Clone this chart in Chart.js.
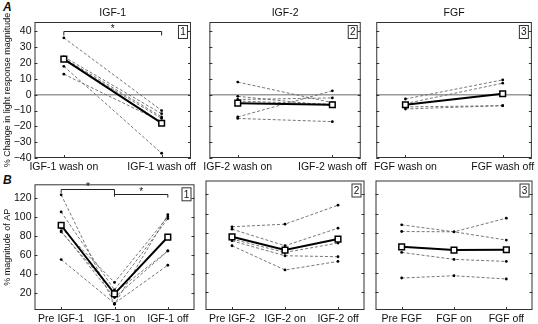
<!DOCTYPE html>
<html>
<head>
<meta charset="utf-8">
<script src="https://cdn.jsdelivr.net/npm/chart.js@4.4.0/dist/chart.umd.min.js"></script>
<style>
  body { margin: 0; background: #fff; }
  #wrap { position: relative; width: 538px; height: 324px; font-family: "Liberation Sans", Arial, sans-serif; }
  canvas { position: absolute; }
  .tag { position: absolute; font-weight: bold; font-style: italic; font-size: 12px; color: #111; }
</style>
</head>
<body>
<div id="wrap">
  <div class="tag" style="left:3px;top:0px">A</div>
  <div class="tag" style="left:3px;top:173px">B</div>
  <canvas id="a1" style="left:0px;top:0px" width="200" height="175"></canvas>
  <canvas id="a2" style="left:200px;top:0px" width="170" height="175"></canvas>
  <canvas id="a3" style="left:370px;top:0px" width="168" height="175"></canvas>
  <canvas id="b1" style="left:0px;top:175px" width="200" height="149"></canvas>
  <canvas id="b2" style="left:200px;top:175px" width="170" height="149"></canvas>
  <canvas id="b3" style="left:370px;top:175px" width="168" height="149"></canvas>
</div>
<script>
// Row A: % change in light response, wash on / wash off
const igf1WashLabels = ["IGF-1 wash on", "IGF-1 wash off"];
const igf1WashCells = [[36, -10], [24, -12], [23, -14], [22, -15], [18, -37], [13, -17]];
const igf1WashMean = [22.5, -18];

const igf2WashLabels = ["IGF-2 wash on", "IGF-2 wash off"];
const igf2WashCells = [[8, -5], [-1, -7], [-3, -2], [-4, -6], [-14, 2.5], [-15, -17]];
const igf2WashMean = [-5.3, -6.3];

const fgfWashLabels = ["FGF wash on", "FGF wash off"];
const fgfWashCells = [[-2.7, 9.4], [-5.6, 7.3], [-7.7, -6.9], [-9, -6.9]];
const fgfWashMean = [-6.3, 0.6];

// Row B: % magnitude of AP, pre / on / off
const igf1ApLabels = ["Pre IGF-1", "IGF-1 on", "IGF-1 off"];
const igf1ApCells = [[123, 8, 102], [105, 23, 98], [88, 31, 100], [85, 15, 64], [84, 20, 64], [55, 9, 49]];
const igf1ApMean = [91, 19, 78.6];

const igf2ApLabels = ["Pre IGF-2", "IGF-2 on", "IGF-2 off"];
const igf2ApCells = [[86.8, 89.5, 108.8], [84.4, 67.5, 85.4], [74.3, 60.7, 70.2], [72.5, 57.3, 56.3], [67.5, 42.8, 51.5]];
const igf2ApMean = [76.6, 63.1, 74.3];

const fgfApLabels = ["Pre FGF", "FGF on", "FGF off"];
const fgfApCells = [[88.8, 81.7, 73.3], [82, 81.7, 95.6], [60.7, 53.6, 51.5], [34.6, 36.9, 33.6]];
const fgfApMean = [66.4, 63.1, 63.4];

const FONT = "Liberation Sans";

// draws box, inward ticks, zero line, panel number, title and brackets
const panelDeco = {
  id: "panelDeco",
  beforeDatasetsDraw(chart, args, opts) {
    const { ctx, chartArea: a, scales } = chart;
    if (opts.zero) {
      const y0 = scales.y.getPixelForValue(0);
      ctx.save();
      ctx.strokeStyle = "#9a9a9a";
      ctx.lineWidth = 1.5;
      ctx.beginPath();
      ctx.moveTo(a.left, y0);
      ctx.lineTo(a.right, y0);
      ctx.stroke();
      ctx.restore();
    }
  },
  afterDatasetsDraw(chart, args, opts) {
    const { ctx, chartArea: a, scales } = chart;
    ctx.save();
    ctx.strokeStyle = "#333";
    ctx.lineWidth = 1;
    ctx.strokeRect(a.left + 0.5, a.top + 0.5, a.right - a.left - 1, a.bottom - a.top - 1);
    // y ticks both sides
    ctx.beginPath();
    scales.y.ticks.forEach(t => {
      const y = Math.round(scales.y.getPixelForValue(t.value)) + 0.5;
      ctx.moveTo(a.left, y); ctx.lineTo(a.left + 3, y);
      ctx.moveTo(a.right, y); ctx.lineTo(a.right - 3, y);
    });
    scales.x.ticks.forEach(t => {
      const x = Math.round(scales.x.getPixelForValue(t.value)) + 0.5;
      ctx.moveTo(x, a.bottom); ctx.lineTo(x, a.bottom - 3);
    });
    ctx.stroke();

    // panel number box
    ctx.font = "10px " + FONT;
    ctx.fillStyle = "#111";
    ctx.textAlign = "center";
    ctx.textBaseline = "middle";
    const bw = 9, bh = 13;
    const bx = a.right - 4 - bw, by = a.top + 3;
    ctx.lineWidth = 1;
    ctx.strokeRect(bx + 0.5, by + 0.5, bw, bh);
    ctx.fillText(opts.num, bx + bw / 2 + 0.5, by + bh / 2 + 1);

    // title
    ctx.font = "10.5px " + FONT;
    ctx.fillText(opts.title, (a.left + a.right) / 2, a.top - 9);

    // significance brackets
    (opts.brackets || []).forEach(b => {
      const x0 = scales.x.getPixelForValue(b.x0);
      const x1 = scales.x.getPixelForValue(b.x1);
      const y = Math.round(scales.y.getPixelForValue(b.y)) + 0.5;
      ctx.strokeStyle = "#222";
      ctx.lineWidth = 1;
      ctx.beginPath();
      ctx.moveTo(x0, scales.y.getPixelForValue(b.d0));
      ctx.lineTo(x0, y);
      ctx.lineTo(x1, y);
      ctx.lineTo(x1, scales.y.getPixelForValue(b.d1));
      ctx.stroke();
      ctx.font = "10px " + FONT;
      ctx.fillText("*", (x0 + x1) / 2, y - 2);
    });
    ctx.restore();
  }
};

function makePanel(id, opt) {
  const n = opt.labels.length;
  const datasets = [{
    data: opt.mean.map((v, i) => ({ x: i, y: v })),
    borderColor: "#000",
    borderWidth: 2,
    pointStyle: "rect",
    pointRadius: 4,
    pointBorderWidth: 1.5,
    pointBorderColor: "#000",
    pointBackgroundColor: "#fff"
  }];
  opt.cells.forEach(c => {
    datasets.push({
      data: c.map((v, i) => ({ x: i, y: v })),
      borderColor: "#666",
      borderWidth: 0.9,
      borderDash: [3, 2],
      pointRadius: 1.4,
      pointBorderWidth: 0,
      pointBackgroundColor: "#000"
    });
  });

  new Chart(document.getElementById(id), {
    type: "line",
    data: { datasets },
    options: {
      responsive: false,
      animation: false,
      layout: { padding: { top: opt.padTop, right: opt.padRight, left: 0, bottom: 0 } },
      plugins: {
        legend: { display: false },
        tooltip: { enabled: false },
        panelDeco: { title: opt.title, num: opt.num, zero: opt.zero, brackets: opt.brackets }
      },
      scales: {
        x: {
          type: "linear",
          min: n === 2 ? -0.3 : -0.5,
          max: n === 2 ? 1.3 : 2.5,
          grid: { display: false, drawTicks: false },
          border: { display: false },
          afterBuildTicks: s => { s.ticks = opt.labels.map((_, i) => ({ value: i })); },
          afterFit: s => { s.height = opt.xHeight; },
          ticks: {
            autoSkip: false,
            maxRotation: 0,
            padding: 3,
            color: "#111",
            font: { family: FONT, size: 10.5 },
            callback: v => opt.labels[Math.round(v)]
          }
        },
        y: {
          min: opt.ymin,
          max: opt.ymax,
          grid: { display: false, drawTicks: false },
          border: { display: false },
          afterFit: s => { s.width = opt.yWidth; },
          title: {
            display: !!opt.yTitle,
            text: opt.yTitle,
            color: "#111",
            padding: { top: 2, bottom: 0 },
            font: { family: FONT, size: 9 }
          },
          ticks: {
            display: opt.showY,
            stepSize: opt.step,
            includeBounds: false,
            padding: 3,
            color: "#111",
            font: { family: FONT, size: 10.5 },
            callback: v => String(v).replace("-", "\u2212")
          }
        }
      }
    },
    plugins: [panelDeco]
  });
}

const rowA = { ymin: -40, ymax: 46, step: 10, padTop: 22, xHeight: 17, zero: true };
const rowB = { ymin: 2, ymax: 134, step: 20, padTop: 5, xHeight: 14, zero: false };

makePanel("a1", Object.assign({}, rowA, {
  labels: igf1WashLabels, cells: igf1WashCells, mean: igf1WashMean, title: "IGF-1", num: "1",
  showY: true, yWidth: 34.5, padRight: 3, yTitle: "% Change in light response magnitude",
  brackets: [{ x0: 0, x1: 1, y: 40, d0: 37.5, d1: 37.5 }]
}));
makePanel("a2", Object.assign({}, rowA, {
  labels: igf2WashLabels, cells: igf2WashCells, mean: igf2WashMean, title: "IGF-2", num: "2",
  showY: false, yWidth: 2, padRight: 3
}));
makePanel("a3", Object.assign({}, rowA, {
  labels: fgfWashLabels, cells: fgfWashCells, mean: fgfWashMean, title: "FGF", num: "3",
  showY: false, yWidth: 2, padRight: 2
}));
makePanel("b1", Object.assign({}, rowB, {
  labels: igf1ApLabels, cells: igf1ApCells, mean: igf1ApMean, title: "", num: "1",
  showY: true, yWidth: 34.5, padRight: 3, yTitle: "% magnitude of AP",
  brackets: [{ x0: 0, x1: 1, y: 129, d0: 125, d1: 121 }, { x0: 1, x1: 2, y: 124, d0: 124, d1: 120 }]
}));
makePanel("b2", Object.assign({}, rowB, {
  labels: igf2ApLabels, cells: igf2ApCells, mean: igf2ApMean, title: "", num: "2",
  showY: false, yWidth: 2, padRight: 3
}));
makePanel("b3", Object.assign({}, rowB, {
  labels: fgfApLabels, cells: fgfApCells, mean: fgfApMean, title: "", num: "3",
  showY: false, yWidth: 2, padRight: 2
}));
</script>
</body>
</html>
